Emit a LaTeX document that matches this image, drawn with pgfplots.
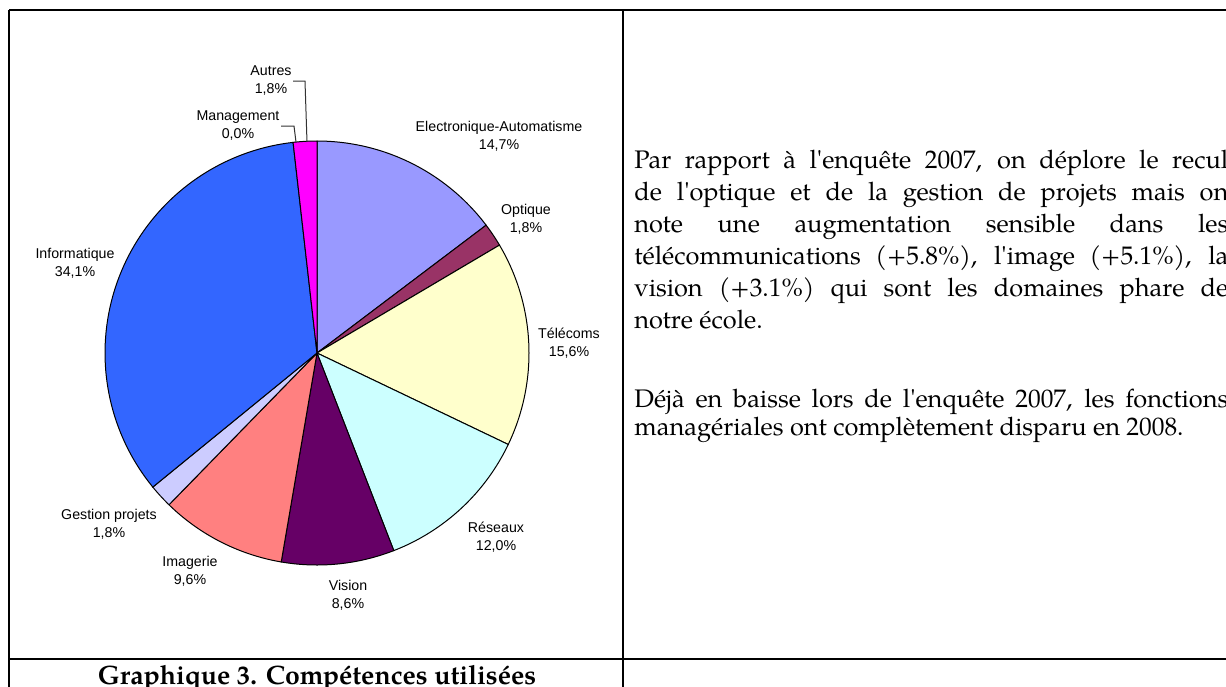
\documentclass[border=0pt]{standalone}
\usepackage{pgfplots}
\pgfplotsset{compat=1.18}
\usepackage{fontspec}
\setmainfont{TeX Gyre Pagella}
\newfontfamily\labfont{Liberation Sans}
\newcommand{\q}{\textquotesingle}

\definecolor{celec}{HTML}{9999FF}
\definecolor{copt}{HTML}{993366}
\definecolor{ctel}{HTML}{FFFFCC}
\definecolor{cres}{HTML}{CCFFFF}
\definecolor{cvis}{HTML}{660066}
\definecolor{cima}{HTML}{FF8080}
\definecolor{cges}{HTML}{CCCCFF}
\definecolor{cinf}{HTML}{3366FF}
\definecolor{caut}{HTML}{FF00FF}

% one wedge: start (%), share (%), colour; clockwise from the top
\newcommand{\slice}[3]{%
  \pgfmathsetmacro\sa{90-3.6*#1}%
  \pgfmathsetmacro\sb{90-3.6*(#1+#2)}%
  \edef\doslice{\noexpand\addplot[draw=black, line width=0.5pt, fill=#3,
      domain=\sb:\sa, samples=80, variable=\noexpand\t]
    ({317+212*cos(\noexpand\t)},{353-212*sin(\noexpand\t)})
    -- (axis cs:317,353) -- cycle;}%
  \doslice}

\begin{document}
\begin{tikzpicture}
\useasboundingbox (0,0) rectangle (613pt,343pt);
\clip (0,0) rectangle (613pt,343pt);
\begin{axis}[
    at={(0,0)}, anchor=south west,
    width=613pt, height=343pt, scale only axis,
    xmin=0, xmax=1226, ymin=0, ymax=686,
    y dir=reverse, hide axis, clip=false,
    every node/.style={text=black!85}
]

% shares in percent
\slice{0}{14.7}{celec}    % Electronique-Automatisme
\slice{14.7}{1.8}{copt}   % Optique
\slice{16.5}{15.6}{ctel}  % Telecoms
\slice{32.1}{12.0}{cres}  % Reseaux
\slice{44.1}{8.6}{cvis}   % Vision
\slice{52.7}{9.6}{cima}   % Imagerie
\slice{62.3}{1.8}{cges}   % Gestion projets
\slice{64.1}{34.1}{cinf}  % Informatique
% Management 0.0
\slice{98.2}{1.8}{caut}   % Autres

\tikzset{lab/.style={font=\labfont\fontsize{7.1}{9}\selectfont, align=center, inner sep=0pt}}
\node[lab] at (axis cs:499,136) {Electronique-Automatisme\\14,7\%};
\node[lab] at (axis cs:526,219) {Optique\\1,8\%};
\node[lab] at (axis cs:569,343) {Télécoms\\15,6\%};
\node[lab] at (axis cs:496,537) {Réseaux\\12,0\%};
\node[lab] at (axis cs:348,595) {Vision\\8,6\%};
\node[lab] at (axis cs:190,571) {Imagerie\\9,6\%};
\node[lab] at (axis cs:109,524) {Gestion projets\\1,8\%};
\node[lab] at (axis cs:75,263) {Informatique\\34,1\%};
\node[lab] at (axis cs:238,126) {Management\\0,0\%};
\node[lab] at (axis cs:271,81) {Autres\\1,8\%};
\draw[black!80, line width=0.5pt] (axis cs:281,126) -- (axis cs:294,126) -- (axis cs:296,142);
\draw[black!80, line width=0.5pt] (axis cs:293,81) -- (axis cs:305,81) -- (axis cs:307,142);

% table frame
\draw[black, line width=1pt] (axis cs:9,10) -- (axis cs:1240,10);
\draw[black, line width=1pt] (axis cs:9,10) -- (axis cs:9,700);
\draw[black, line width=1pt] (axis cs:623,10) -- (axis cs:623,700);
\draw[black, line width=1pt] (axis cs:9,659) -- (axis cs:1240,659);

% caption
\node[anchor=base, inner sep=0pt, text=black, font=\fontsize{13.3}{15}\selectfont\bfseries]
  at (axis cs:317,684) {Graphique 3. Compétences utilisées};

% commentary
\tikzset{txt/.style={anchor=base west, inner sep=0pt, text=black, font=\fontsize{12.7}{16}\selectfont}}
\node[txt] at (axis cs:634,168) {\makebox[297pt][s]{Par rapport à l\q enquête 2007, on déplore le recul}};
\node[txt] at (axis cs:634,200) {\makebox[297pt][s]{de l\q optique et de la gestion de projets mais on}};
\node[txt] at (axis cs:634,232) {\makebox[297pt][s]{note une augmentation sensible dans les}};
\node[txt] at (axis cs:634,264) {\makebox[297pt][s]{télécommunications (+5.8\%), l\q image (+5.1\%), la}};
\node[txt] at (axis cs:634,296) {\makebox[297pt][s]{vision (+3.1\%) qui sont les domaines phare de}};
\node[txt] at (axis cs:634,328) {notre école.};
\node[txt] at (axis cs:634,407) {\makebox[297pt][s]{Déjà en baisse lors de l\q enquête 2007, les fonctions}};
\node[txt] at (axis cs:634,435) {managériales ont complètement disparu en 2008.};
\end{axis}
\end{tikzpicture}
\end{document}
